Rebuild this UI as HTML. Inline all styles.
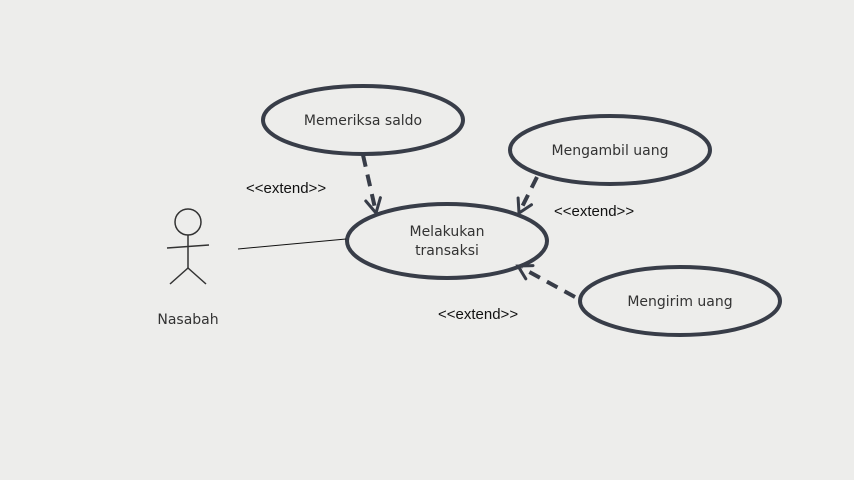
<!DOCTYPE html>
<html><head><style>
body{margin:0;width:854px;height:480px;background:#ececea;overflow:hidden}
svg{display:block}
.h{font-family:"Comic Sans MS","DejaVu Sans",sans-serif;font-size:14px;fill:#333}
.a{font-family:"Liberation Sans",sans-serif;font-size:15px;fill:#111}
</style></head><body>
<svg width="854" height="480" viewBox="0 0 854 480">
<rect width="854" height="480" fill="#ededeb"/>
<g fill="none" stroke="#383d48" stroke-width="4">
<ellipse cx="363" cy="120" rx="100" ry="34"/>
<ellipse cx="610" cy="150" rx="100" ry="34"/>
<ellipse cx="447" cy="241" rx="100" ry="37"/>
<ellipse cx="680" cy="301" rx="100" ry="34"/>
</g>
<g stroke="#383d48" stroke-width="4" stroke-dasharray="12,8" fill="none">
<line x1="363" y1="155" x2="375" y2="208"/>
<line x1="537" y1="177" x2="521" y2="209"/>
<line x1="575" y1="297" x2="522" y2="268"/>
</g>
<g stroke="#383d48" stroke-width="3" fill="none" stroke-linecap="round">
<polyline points="380.4,197.7 376,213 365.8,201"/>
<polyline points="531.5,204.7 519,213 518.1,198"/>
<polyline points="525.8,278.8 518,266 533,265.6"/>
</g>
<g stroke="#333" stroke-width="1.5" fill="none">
<circle cx="188" cy="222" r="13"/>
<line x1="188" y1="235" x2="188" y2="268"/>
<line x1="167" y1="248" x2="209" y2="245"/>
<line x1="188" y1="268" x2="170" y2="284"/>
<line x1="188" y1="268" x2="206" y2="284"/>
</g>
<line x1="238" y1="249" x2="346" y2="239" stroke="#111" stroke-width="1"/>
<text class="h" x="363" y="125" text-anchor="middle">Memeriksa saldo</text>
<text class="h" x="610" y="155" text-anchor="middle">Mengambil uang</text>
<text class="h" x="447" y="236" text-anchor="middle">Melakukan</text>
<text class="h" x="447" y="255" text-anchor="middle">transaksi</text>
<text class="h" x="680" y="306" text-anchor="middle">Mengirim uang</text>
<text class="h" x="188" y="324" text-anchor="middle">Nasabah</text>
<text class="a" x="246" y="193">&lt;&lt;extend&gt;&gt;</text>
<text class="a" x="554" y="216">&lt;&lt;extend&gt;&gt;</text>
<text class="a" x="438" y="319">&lt;&lt;extend&gt;&gt;</text>
</svg>
</body></html>
